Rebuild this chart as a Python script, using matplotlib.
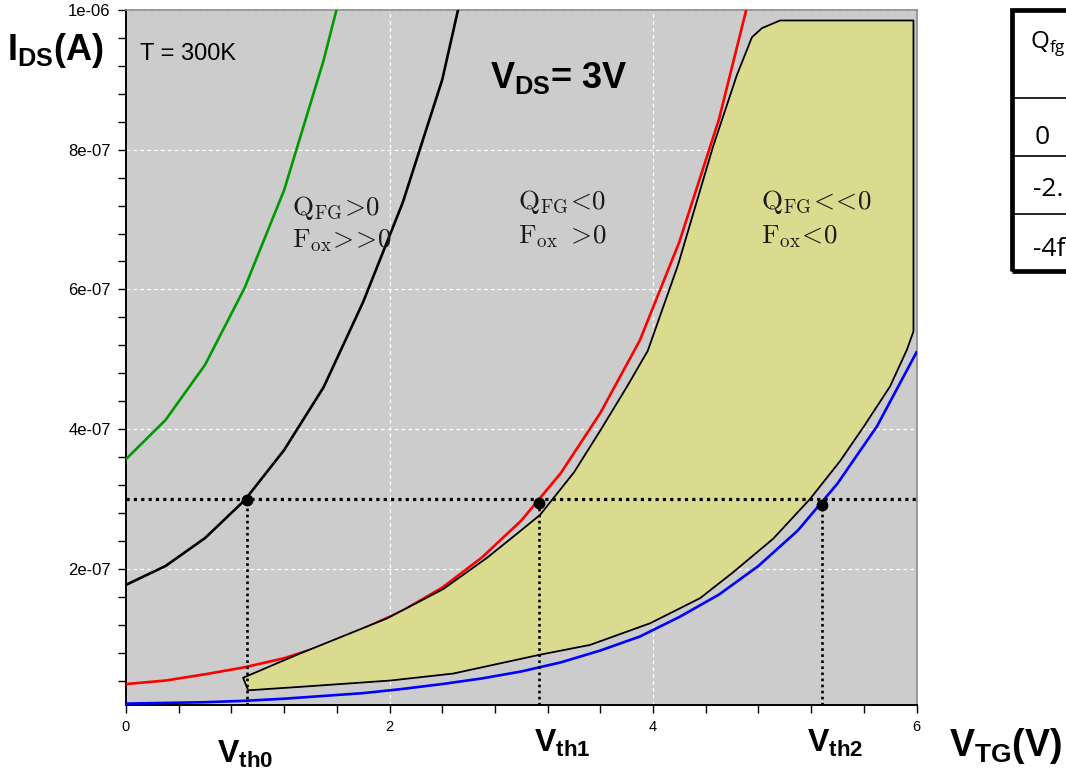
import matplotlib
matplotlib.use("Agg")
import matplotlib.pyplot as plt
from matplotlib.ticker import FixedLocator, MultipleLocator
from matplotlib.patches import Rectangle
from matplotlib.lines import Line2D

plt.rcParams['font.family'] = ['Liberation Sans', 'DejaVu Sans']
plt.rcParams['mathtext.fontset'] = 'custom'
plt.rcParams['mathtext.rm'] = 'Liberation Sans:bold'
plt.rcParams['mathtext.bf'] = 'Liberation Sans:bold'
plt.rcParams['mathtext.it'] = 'Liberation Sans:bold'

# ---------------- data (units: V, 1e-6 A) ----------------
green_x = [0.0, 0.3, 0.6, 0.9, 1.2, 1.5, 1.8]
green_y = [0.357, 0.413, 0.492, 0.602, 0.742, 0.928, 1.15]

black_x = [0.0, 0.3, 0.6, 0.9, 1.2, 1.5, 1.8, 2.1, 2.4, 2.7]
black_y = [0.177, 0.204, 0.244, 0.298, 0.370, 0.460, 0.582, 0.724, 0.900, 1.15]

red_x = [0.0, 0.3, 0.6, 0.9, 1.2, 1.5, 1.8, 2.1, 2.4, 2.7, 3.0, 3.3, 3.6, 3.9, 4.2, 4.5, 4.8]
red_y = [0.035, 0.040, 0.049, 0.059, 0.072, 0.090, 0.114, 0.140, 0.173, 0.216, 0.269,
         0.337, 0.423, 0.527, 0.668, 0.843, 1.07]

blue_x = [0.0, 0.3, 0.6, 0.9, 1.2, 1.5, 1.8, 2.1, 2.4, 2.7, 3.0, 3.3, 3.6, 3.9, 4.2,
          4.5, 4.8, 5.1, 5.4, 5.7, 6.0]
blue_y = [0.007, 0.008, 0.009, 0.011, 0.014, 0.018, 0.022, 0.028, 0.035, 0.043, 0.053,
          0.066, 0.083, 0.103, 0.131, 0.163, 0.204, 0.255, 0.322, 0.404, 0.510]

# outline of the shaded Q_FG<<0 region (upper edge left->right, then lower edge right->left)
region_x = [0.889, 1.299, 1.982, 2.408, 2.742, 2.992, 3.142, 3.400, 3.600, 3.800, 3.960,
            4.190, 4.455, 4.637, 4.751, 4.827, 4.964, 5.977, 5.977, 5.928, 5.799, 5.594,
            5.419, 5.192, 4.912, 4.608, 4.358, 3.978, 3.522, 3.142, 2.483, 2.005, 1.400,
            0.927]
region_y = [0.044, 0.077, 0.129, 0.171, 0.216, 0.254, 0.277, 0.338, 0.398, 0.460, 0.512,
            0.635, 0.804, 0.907, 0.961, 0.974, 0.985, 0.985, 0.540, 0.514, 0.461, 0.402,
            0.354, 0.300, 0.243, 0.195, 0.158, 0.122, 0.091, 0.077, 0.050, 0.040, 0.032,
            0.026]

ids_ref = 0.300
vth_x = [0.918, 3.131, 5.280]
vth_y = [0.299, 0.294, 0.291]
vth_names = ['th0', 'th1', 'th2']

ytick_vals = [0.2, 0.4, 0.6, 0.8, 1.0]
ytick_labels = ['2e-07', '4e-07', '6e-07', '8e-07', '1e-06']
xtick_vals = [0, 2, 4, 6]

table_rows = [r'Q$_{\mathregular{fg}}$', '0', '-2.', '-4f']

# ---------------- figure ----------------
W, H = 1066, 772
fig = plt.figure(figsize=(W / 100, H / 100), dpi=100)
fig.patch.set_facecolor('white')
ax = fig.add_axes([126 / W, 1 - 705 / H, (916.5 - 126) / W, (705 - 10) / H])
ax.set_facecolor('#cccccc')

ax.set_xlim(0, 6)
ax.set_ylim(0.005, 1.0)

ax.grid(True, which='major', color='white', ls=(0, (3, 2.5)), lw=0.9, zorder=1)
ax.set_axisbelow(True)

ax.plot(green_x, green_y, color='#009900', lw=1.9, zorder=3)
ax.plot(black_x, black_y, color='black', lw=1.9, zorder=3)
ax.plot(red_x, red_y, color='#ff0000', lw=1.9, zorder=3)
ax.plot(blue_x, blue_y, color='#0000ff', lw=1.9, zorder=3)

ax.fill(region_x, region_y, facecolor='#dbdb8f', edgecolor='black', lw=1.3,
        joinstyle='round', zorder=3.5)

ax.axhline(ids_ref, color='black', lw=2.3, ls=(0, (1, 1.3)), zorder=4)
for vx, vy in zip(vth_x, vth_y):
    ax.plot([vx, vx], [0.005, vy], color='black', lw=1.9, ls=(0, (1, 1.3)), zorder=4)
ax.plot(vth_x, vth_y, 'o', color='black', ms=7.5, zorder=5)

# ticks
ax.yaxis.set_major_locator(FixedLocator(ytick_vals))
ax.set_yticklabels(ytick_labels)
ax.yaxis.set_minor_locator(MultipleLocator(0.04))
ax.xaxis.set_major_locator(FixedLocator(xtick_vals))
ax.set_xticklabels([str(v) for v in xtick_vals])
ax.xaxis.set_minor_locator(MultipleLocator(0.4))
ax.tick_params(which='both', direction='out', length=6, width=1, color='black',
               top=False, right=False)
ax.tick_params(axis='y', labelsize=12, pad=5)
ax.tick_params(axis='x', labelsize=10.5, pad=5)

for s in ['left', 'bottom']:
    ax.spines[s].set_color('black')
    ax.spines[s].set_linewidth(1.4)
for s in ['top', 'right']:
    ax.spines[s].set_color('#8a8a8a')
    ax.spines[s].set_linewidth(1.2)

def fx(px):
    return px / W

def fy(py):
    return 1 - py / H

# axis labels and annotations
fig.text(fx(7), fy(60), r'$\mathbf{I_{DS}}$(A)', fontsize=26, fontweight='bold',
         va='baseline', ha='left')
fig.text(fx(949), fy(756), r'$\mathbf{V_{TG}}$(V)', fontsize=27, fontweight='bold',
         va='baseline', ha='left')
fig.text(fx(490), fy(88), r'$\mathbf{V_{DS}}$= 3V', fontsize=26, fontweight='bold',
         va='baseline', ha='left')
fig.text(fx(140), fy(60), 'T = 300K', fontsize=17, va='baseline', ha='left')

vth_label_pos = [(217, 763), (534, 752), (807, 752)]
for name, (px, py) in zip(vth_names, vth_label_pos):
    fig.text(fx(px), fy(py), r'$\mathbf{V_{%s}}$' % name, fontsize=23,
             fontweight='bold', va='baseline', ha='left')

serif_kw = dict(fontsize=19.5, color='#1a1a1a', va='baseline', ha='left',
                math_fontfamily='cm')
fig.text(fx(292), fy(215), r'$\mathrm{Q_{FG}}\!>\!0$', **serif_kw)
fig.text(fx(292), fy(247), r'$\mathrm{F_{ox}}\!>\!\!>\!0$', **serif_kw)
fig.text(fx(518), fy(209), r'$\mathrm{Q_{FG}}\!<\!0$', **serif_kw)
fig.text(fx(518), fy(243), r'$\mathrm{F_{ox}}\ >\!0$', **serif_kw)
fig.text(fx(761), fy(209), r'$\mathrm{Q_{FG}}\!<\!\!<\!0$', **serif_kw)
fig.text(fx(761), fy(243), r'$\mathrm{F_{ox}}\!<\!0$', **serif_kw)

# table at the right edge (cut off by the image border)
tl, tt, tb = 1012, 10, 271
fig.add_artist(Rectangle((fx(tl), fy(tb)), fx(1120) - fx(tl), fy(tt) - fy(tb),
                         transform=fig.transFigure, fill=False, lw=3.4,
                         edgecolor='black', clip_on=False))
row_lines = [98, 156, 214]
for ry in row_lines:
    fig.add_artist(Line2D([fx(tl), 1.05], [fy(ry), fy(ry)], transform=fig.transFigure,
                          color='black', lw=1.2))
row_centers = [44, 137, 190, 249]
row_left = [1030, 1035, 1033, 1033]
row_size = [17.5, 19, 19, 19]
for txt, cy, lx, fs in zip(table_rows, row_centers, row_left, row_size):
    fig.text(fx(lx), fy(cy), txt, fontsize=fs, va='center', ha='left',
             family=['Open Sans', 'DejaVu Sans'], fontweight='normal',
             math_fontfamily='dejavusans')

fig.savefig('out.png', dpi=100, facecolor='white')
